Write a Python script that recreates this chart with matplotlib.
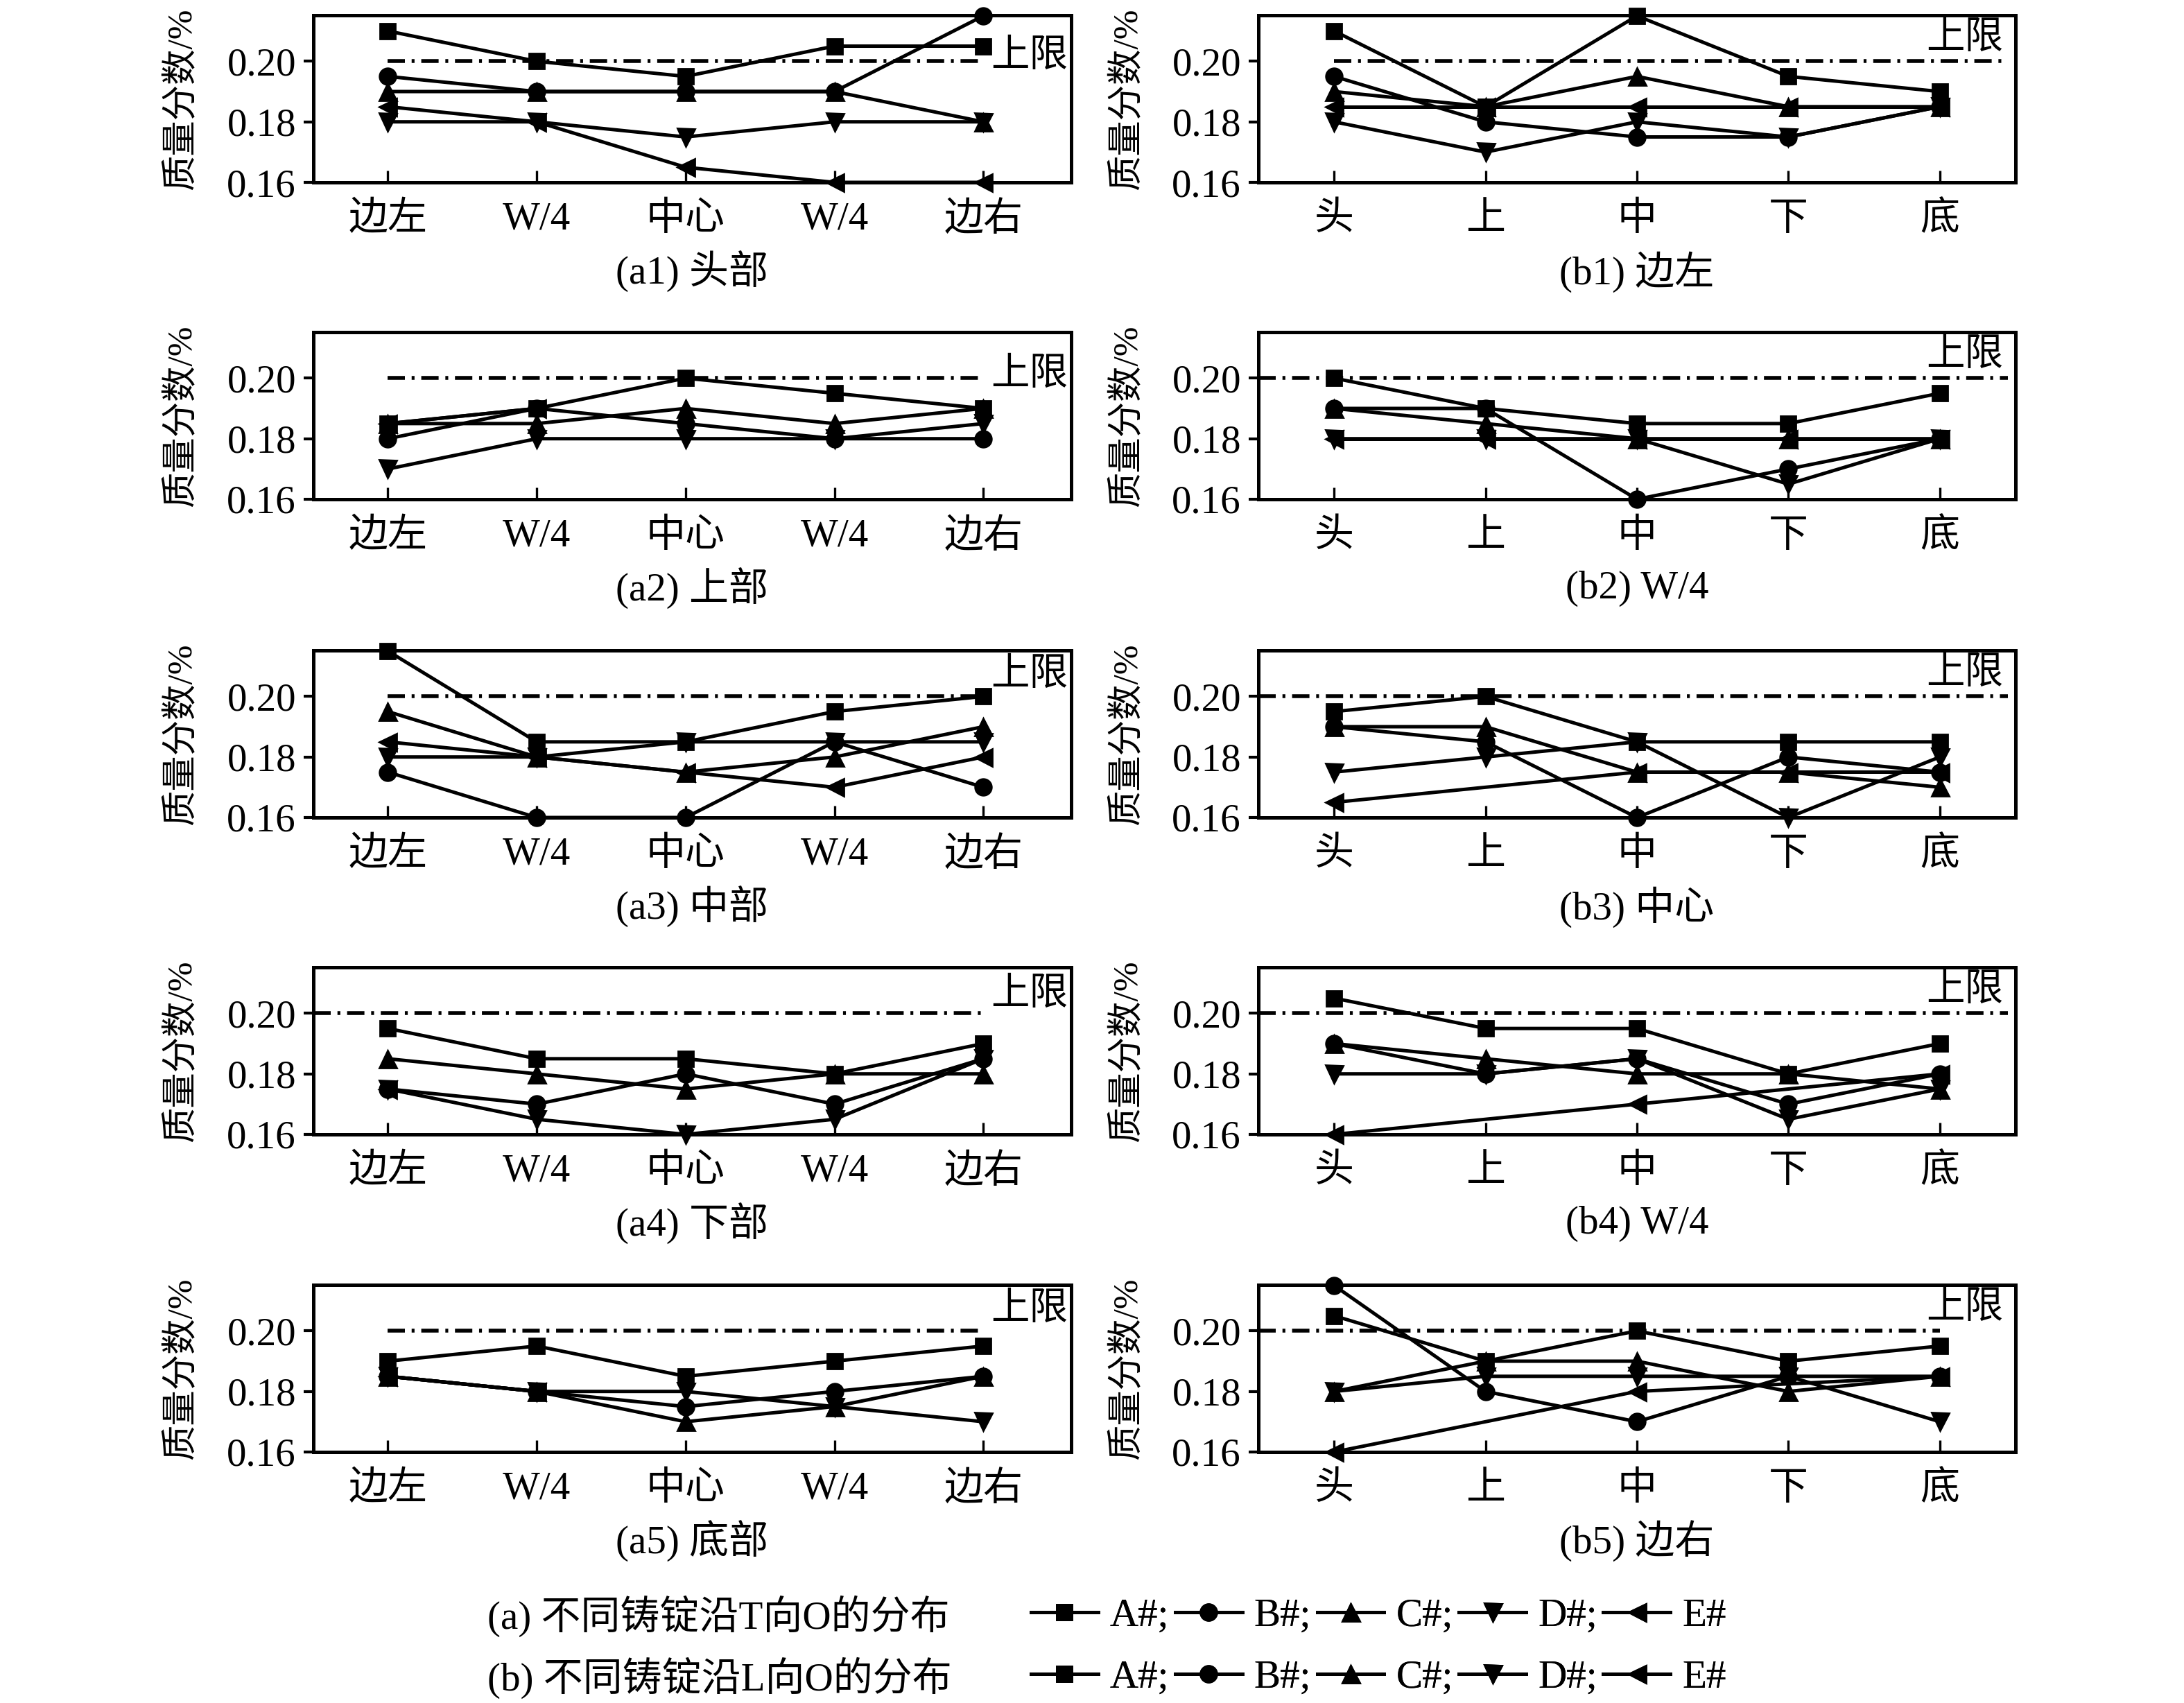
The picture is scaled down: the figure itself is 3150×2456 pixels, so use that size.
import numpy as np
import matplotlib
matplotlib.use("Agg")
import matplotlib.pyplot as plt
from matplotlib.lines import Line2D

plt.rcParams['font.family'] = ['Liberation Serif', 'Noto Sans CJK SC', 'DejaVu Sans']
plt.rcParams['lines.scale_dashes'] = False

nan = np.nan

# ---------------- data ----------------
series_names = ['A#', 'B#', 'C#', 'D#', 'E#']
positions_a = ['边左', 'W/4', '中心', 'W/4', '边右']
positions_b = ['头', '上', '中', '下', '底']
captions_a = ['(a1) 头部', '(a2) 上部', '(a3) 中部', '(a4) 下部', '(a5) 底部']
captions_b = ['(b1) 边左', '(b2) W/4', '(b3) 中心', '(b4) W/4', '(b5) 边右']
upper_limit = 0.20

# rows: A#, B#, C#, D#, E#
a1 = [[0.210, 0.200, 0.195, 0.205, 0.205],
      [0.195, 0.190, 0.190, 0.190, 0.215],
      [0.190, 0.190, 0.190, 0.190, 0.180],
      [0.180, 0.180, 0.175, 0.180, 0.180],
      [0.185, 0.180, 0.165, 0.160, 0.160]]
a2 = [[0.185, 0.190, 0.200, 0.195, 0.190],
      [0.180, 0.190, 0.185, 0.180, 0.180],
      [0.185, 0.185, 0.190, 0.185, 0.190],
      [0.170, 0.180, 0.180, 0.180, 0.185],
      [0.185, 0.190, nan, nan, nan]]
a3 = [[0.215, 0.185, 0.185, 0.195, 0.200],
      [0.175, 0.160, 0.160, 0.185, 0.170],
      [0.195, 0.180, 0.175, 0.180, 0.190],
      [0.180, 0.180, 0.185, 0.185, 0.185],
      [0.185, 0.180, 0.175, 0.170, 0.180]]
a4 = [[0.195, 0.185, 0.185, 0.180, 0.190],
      [0.175, 0.170, 0.180, 0.170, 0.185],
      [0.185, 0.180, 0.175, 0.180, 0.180],
      [0.175, 0.165, 0.160, 0.165, 0.185],
      [0.175, nan, nan, nan, nan]]
a5 = [[0.190, 0.195, 0.185, 0.190, 0.195],
      [0.185, 0.180, 0.175, 0.180, 0.185],
      [0.185, 0.180, 0.170, 0.175, 0.185],
      [0.185, 0.180, 0.180, 0.175, 0.170],
      [0.185, 0.180, nan, nan, nan]]

b1 = [[0.210, 0.185, 0.215, 0.195, 0.190],
      [0.195, 0.180, 0.175, 0.175, 0.185],
      [0.190, 0.185, 0.195, 0.185, 0.185],
      [0.180, 0.170, 0.180, 0.175, 0.185],
      [0.185, 0.185, 0.185, 0.185, 0.185]]
b2 = [[0.200, 0.190, 0.185, 0.185, 0.195],
      [0.190, 0.190, 0.160, 0.170, 0.180],
      [0.190, 0.185, 0.180, 0.180, 0.180],
      [0.180, 0.180, 0.180, 0.165, 0.180],
      [0.180, 0.180, 0.180, 0.180, 0.180]]
b3 = [[0.195, 0.200, 0.185, 0.185, 0.185],
      [0.190, 0.185, 0.160, 0.180, 0.175],
      [0.190, 0.190, 0.175, 0.175, 0.170],
      [0.175, 0.180, 0.185, 0.160, 0.180],
      [0.165, nan, 0.175, 0.175, 0.175]]
b4 = [[0.205, 0.195, 0.195, 0.180, 0.190],
      [0.190, 0.180, 0.185, 0.170, 0.180],
      [0.190, 0.185, 0.180, 0.180, 0.175],
      [0.180, 0.180, 0.185, 0.165, 0.175],
      [0.160, nan, 0.170, nan, 0.180]]
b5 = [[0.205, 0.190, 0.200, 0.190, 0.195],
      [0.215, 0.180, 0.170, 0.185, 0.185],
      [0.180, 0.190, 0.190, 0.180, 0.185],
      [0.180, 0.185, 0.185, 0.185, 0.170],
      [0.160, nan, 0.180, nan, 0.185]]

panels_a = [a1, a2, a3, a4, a5]
panels_b = [b1, b2, b3, b4, b5]
y_ticks = [0.16, 0.18, 0.20]
y_tick_labels = ['0.16', '0.18', '0.20']

# ---------------- style ----------------
markers = ['s', 'o', '^', 'v', '<']
msizes = [8, 8.5, 9, 9, 9]
LW = 1.8
FS = 20.5
W, H = 3150, 2456
fig = plt.figure(figsize=(W / 200, H / 200), dpi=200)

tops = [22, 479, 938, 1395, 1853]
ax_h = 241
a_left, a_w = 452, 1093
b_left, b_w = 1815, 1092

a_lab_y = [0.2015, 0.2011, 0.2070, 0.2060, 0.2070]
a_line_start = [0, 0, 0, -0.5, 0]
b_line_start = [0, -0.5, -0.5, -0.5, -0.5]
b_line_end = [4.45, 4.45, 4.45, 4.45, 4.0]
dash = (0, (9, 3.5, 1.5, 3.5))


def draw_panel(ax, data, xlabels, caption, kind, i):
    x = np.arange(len(xlabels))
    for k, vals in enumerate(data):
        v = np.array(vals, dtype=float)
        m = ~np.isnan(v)
        ax.plot(x[m], v[m], color='black', lw=LW, marker=markers[k],
                ms=msizes[k], mfc='black', mec='black', clip_on=False, zorder=3)
    if kind == 'a':
        ax.set_xlim(-0.5, 4.59)
        ax.plot([a_line_start[i], 4], [upper_limit, upper_limit], color='black',
                lw=2.0, linestyle=dash, zorder=2)
        ax.text(4.05, a_lab_y[i], '上限', ha='left', va='center', fontsize=20)
    else:
        ax.set_xlim(-0.5, 4.5)
        ax.plot([b_line_start[i], b_line_end[i]], [upper_limit, upper_limit],
                color='black', lw=2.0, linestyle=dash, zorder=2)
        ax.text(4.42, 0.2075, '上限', ha='right', va='center', fontsize=20)
    ax.set_ylim(0.16, 0.2152)
    ax.set_xticks(x)
    ax.set_xticklabels(xlabels)
    ax.set_yticks(y_ticks)
    ax.set_yticklabels(y_tick_labels)
    ax.tick_params(axis='y', direction='out', length=5, width=1.5,
                   labelsize=20.5, pad=4)
    ax.tick_params(axis='x', direction='in', length=6, width=1.2,
                   labelsize=FS, pad=10)
    for s in ax.spines.values():
        s.set_linewidth(1.8)
    ax.set_ylabel('质量分数/%', fontsize=18.5)
    ax.yaxis.set_label_coords(-0.152, 0.5)
    ax.text(0.5, -0.535, caption, transform=ax.transAxes, ha='center',
            va='center', fontsize=FS)


for i in range(5):
    bottom = 1 - (tops[i] + ax_h) / H
    axa = fig.add_axes([a_left / W, bottom, a_w / W, ax_h / H])
    draw_panel(axa, panels_a[i], positions_a, captions_a[i], 'a', i)
    axb = fig.add_axes([b_left / W, bottom, b_w / W, ax_h / H])
    draw_panel(axb, panels_b[i], positions_b, captions_b[i], 'b', i)

# ---------------- bottom legends ----------------
handles = [Line2D([], [], color='black', lw=LW, marker=markers[k], ms=msizes[k])
           for k in range(5)]
leg_labels = ['A#;', 'B#;', 'C#;', 'D#;', 'E#']
rows = [('(a) 不同铸锭沿T向O的分布', 2331), ('(b) 不同铸锭沿L向O的分布', 2420)]
for text, yc in rows:
    fig.text(703 / W, 1 - yc / H, text, ha='left', va='center', fontsize=FS)
    leg = fig.legend(handles, leg_labels, loc='center left',
                     bbox_to_anchor=(1487 / W, 1 - yc / H), ncol=5,
                     frameon=False, fontsize=FS, handlelength=1.7,
                     handletextpad=0.3, columnspacing=0.15, borderpad=0,
                     borderaxespad=0)
    fig.add_artist(leg)

fig.savefig('out.png', dpi=200)
